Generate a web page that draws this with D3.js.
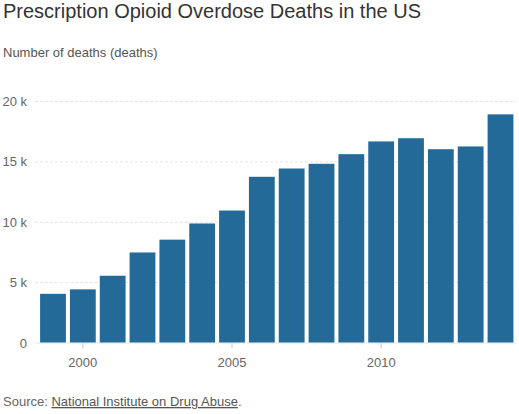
<!DOCTYPE html>
<html>
<head>
<meta charset="utf-8">
<script src="https://cdn.jsdelivr.net/npm/d3@7"></script>
<style>
  body { margin: 0; background: #fff; }
  svg { font-family: "Liberation Sans", Arial, sans-serif; }
</style>
</head>
<body>
<svg id="chart"></svg>
<script>
var years = [1999, 2000, 2001, 2002, 2003, 2004, 2005, 2006, 2007, 2008, 2009, 2010, 2011, 2012, 2013, 2014];
var deaths = [4030, 4400, 5528, 7456, 8517, 9857, 10928, 13723, 14408, 14800, 15597, 16651, 16917, 16007, 16235, 18893];
var yTicks = [0, 5000, 10000, 15000, 20000];
var xTicks = [2000, 2005, 2010];

var width = 519, height = 414;
var svg = d3.select("#chart").attr("width", width).attr("height", height);

var x = d3.scaleBand()
    .domain(years)
    .range([38, 515.5])
    .paddingInner(0.135)
    .paddingOuter(0.07);

var y = d3.scaleLinear()
    .domain([0, 20000])
    .range([342.5, 101]);

// title and subtitle
svg.append("text")
    .attr("x", 3).attr("y", 18)
    .attr("font-size", 20).attr("fill", "#333")
    .text("Prescription Opioid Overdose Deaths in the US");

svg.append("text")
    .attr("x", 3).attr("y", 57)
    .attr("font-size", 13).attr("fill", "#555")
    .text("Number of deaths (deaths)");

// gridlines
svg.selectAll("line.grid")
    .data(yTicks)
    .enter().append("line")
      .attr("class", "grid")
      .attr("x1", 35).attr("x2", 516)
      .attr("y1", function(d){ return y(d) + 0.5; })
      .attr("y2", function(d){ return y(d) + 0.5; })
      .attr("stroke", "#e4e4e4")
      .attr("stroke-dasharray", function(d){ return d === 0 ? null : "3,2"; });

svg.selectAll("text.ylab")
    .data(yTicks)
    .enter().append("text")
      .attr("class", "ylab")
      .attr("x", 27)
      .attr("y", function(d){ return y(d) + 5; })
      .attr("text-anchor", "end")
      .attr("font-size", 13).attr("fill", "#666")
      .text(function(d){ return d === 0 ? "0" : (d / 1000) + " k"; });

// bars
svg.selectAll("rect.bar")
    .data(deaths)
    .enter().append("rect")
      .attr("class", "bar")
      .attr("x", function(d, i){ return x(years[i]); })
      .attr("width", x.bandwidth())
      .attr("y", function(d){ return y(d); })
      .attr("height", function(d){ return y(0) - y(d); })
      .attr("fill", "#236a99");

// x axis ticks + labels
var xt = svg.selectAll("g.xtick")
    .data(xTicks)
    .enter().append("g")
      .attr("class", "xtick")
      .attr("transform", function(d){ return "translate(" + (x(d) + x.bandwidth() / 2) + ",0)"; });

xt.append("line")
    .attr("y1", y(0) + 1).attr("y2", y(0) + 6)
    .attr("stroke", "#ccc");

xt.append("text")
    .attr("y", 367)
    .attr("text-anchor", "middle")
    .attr("font-size", 13).attr("fill", "#666")
    .text(function(d){ return d; });

// source
var src = svg.append("text")
    .attr("x", 3).attr("y", 406)
    .attr("font-size", 13).attr("fill", "#666");
src.append("tspan").text("Source: ");
src.append("tspan")
    .attr("fill", "#555")
    .attr("text-decoration", "underline")
    .text("National Institute on Drug Abuse");
src.append("tspan").text(".");
</script>
</body>
</html>
